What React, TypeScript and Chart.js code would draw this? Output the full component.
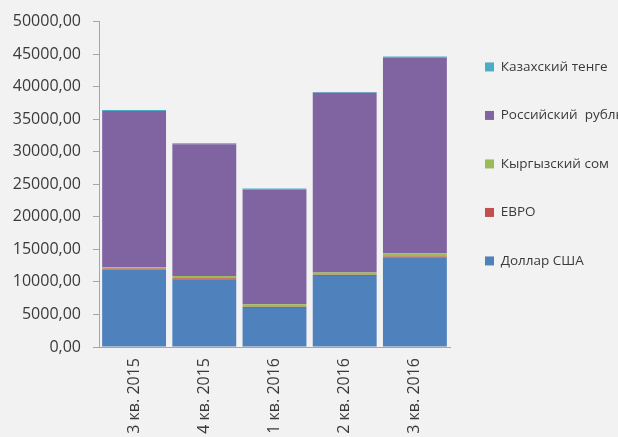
import React, { useEffect, useRef } from 'react';
import { Chart, registerables } from 'chart.js';

Chart.register(...registerables);

const categories = ['3 кв. 2015', '4 кв. 2015', '1 кв. 2016', '2 кв. 2016', '3 кв. 2016'];

const dollarUSD = [11900, 10350, 6000, 10900, 13700];
const euro = [150, 200, 200, 200, 200];
const kyrgyzSom = [200, 350, 350, 350, 500];
const russianRuble = [24000, 20250, 17650, 27600, 30100];
const kazakhTenge = [150, 150, 150, 150, 150];

const seriesNames = ['Доллар США', 'ЕВРО', 'Кыргызский сом', 'Российский  рубль', 'Казахский тенге'];
const seriesColors = ['#4F81BD', '#C0504D', '#9BBB59', '#8064A2', '#4BACC6'];

const yMin = 0;
const yMax = 50000;
const yStep = 5000;

export default function App() {
  const ref = useRef<HTMLCanvasElement>(null);

  useEffect(() => {
    document.body.style.margin = '0';
    document.body.style.background = '#F2F2F2';
    document.body.style.overflow = 'hidden';
    const values = [dollarUSD, euro, kyrgyzSom, russianRuble, kazakhTenge];
    const textColor = '#3A3A3A';
    const axisColor = '#A6A6A6';
    const chart = new Chart(ref.current!, {
      type: 'bar',
      data: {
        labels: categories,
        datasets: values.map((v, i) => ({
          label: seriesNames[i],
          data: v,
          backgroundColor: seriesColors[i],
          borderWidth: 0,
          barPercentage: 0.91,
          categoryPercentage: 1.0,
        })),
      },
      options: {
        animation: false,
        responsive: true,
        maintainAspectRatio: false,
        layout: { padding: { top: 20, left: 0, right: 0, bottom: 0 } },
        plugins: {
          tooltip: { enabled: false },
          legend: {
            position: 'right',
            align: 'start',
            reverse: true,
            maxWidth: 168,
            title: { display: true, text: '', padding: { top: 4, bottom: 0 }, font: { size: 1 } },
            labels: {
              boxWidth: 9,
              boxHeight: 9,
              padding: 35,
              color: textColor,
              font: { family: 'Open Sans', size: 13.5 },
            },
          },
        },
        scales: {
          x: {
            stacked: true,
            grid: { display: true, drawOnChartArea: false, drawTicks: false },
            border: { color: axisColor, width: 1 },
            ticks: {
              maxRotation: 90,
              minRotation: 90,
              padding: 11,
              color: textColor,
              font: { family: 'Open Sans', size: 16 },
            },
            afterFit: (s: any) => {
              s.height = 90;
            },
          },
          y: {
            stacked: true,
            min: yMin,
            max: yMax,
            grid: { drawOnChartArea: false, drawTicks: true, tickLength: 6, color: axisColor },
            border: { color: axisColor, width: 1 },
            ticks: {
              stepSize: yStep,
              padding: 12,
              color: textColor,
              font: { family: 'Open Sans', size: 16 },
              callback: (v: any) => Number(v).toFixed(2).replace('.', ','),
            },
            afterFit: (s: any) => {
              s.width = 99;
            },
          },
        },
      },
    });
    return () => chart.destroy();
  }, []);

  return (
    <div style={{ width: 618, height: 437, position: 'relative', background: '#F2F2F2' }}>
      <canvas ref={ref} />
    </div>
  );
}
